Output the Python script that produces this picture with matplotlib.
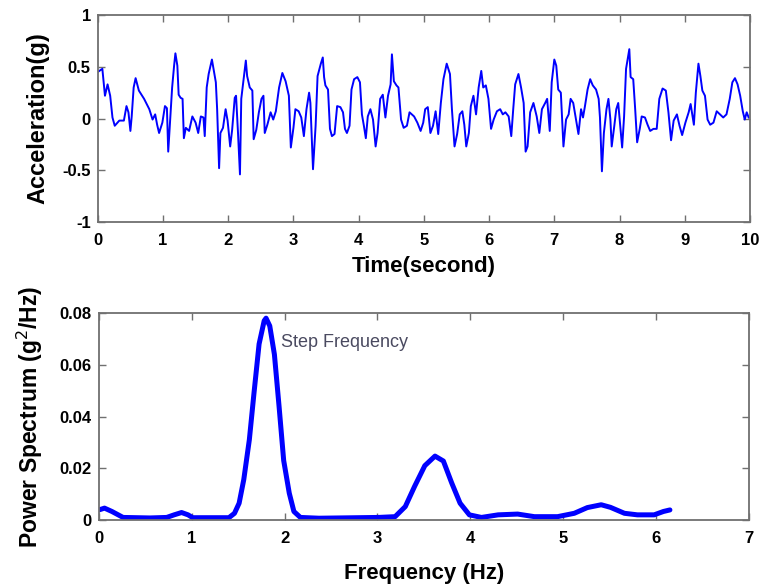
import numpy as np
import matplotlib.pyplot as plt

# acceleration trace (time in s, acceleration in g)
t = [0.00, 0.07, 0.11, 0.15, 0.19, 0.225, 0.26, 0.33, 0.40, 0.44, 0.47, 0.50, 0.52, 0.55, 0.58,
     0.63, 0.71, 0.79, 0.84, 0.88, 0.91, 0.94, 0.99, 1.03, 1.06, 1.08, 1.12, 1.14, 1.17, 1.19,
     1.22, 1.24, 1.27, 1.30, 1.32, 1.35, 1.40, 1.45, 1.50, 1.54, 1.58, 1.62, 1.64, 1.67, 1.70,
     1.75, 1.78, 1.81, 1.83, 1.86, 1.88, 1.92, 1.96, 1.99, 2.03, 2.06, 2.10, 2.12, 2.15, 2.18,
     2.20, 2.23, 2.27, 2.29, 2.33, 2.37, 2.39, 2.43, 2.47, 2.51, 2.54, 2.56, 2.60, 2.65, 2.69,
     2.73, 2.78, 2.83, 2.88, 2.93, 2.96, 3.00, 3.03, 3.08, 3.12, 3.16, 3.20, 3.24, 3.26, 3.30,
     3.34, 3.37, 3.42, 3.45, 3.47, 3.49, 3.53, 3.56, 3.59, 3.63, 3.67, 3.72, 3.76, 3.79, 3.82,
     3.86, 3.89, 3.93, 3.98, 4.02, 4.05, 4.08, 4.11, 4.14, 4.18, 4.22, 4.26, 4.29, 4.33, 4.37,
     4.41, 4.45, 4.49, 4.51, 4.54, 4.58, 4.61, 4.65, 4.69, 4.74, 4.78, 4.85, 4.90, 4.95, 4.99,
     5.02, 5.06, 5.10, 5.14, 5.18, 5.22, 5.26, 5.30, 5.35, 5.40, 5.43, 5.47, 5.51, 5.55, 5.59,
     5.62, 5.65, 5.69, 5.72, 5.76, 5.80, 5.84, 5.88, 5.91, 5.95, 5.99, 6.03, 6.07, 6.12, 6.17,
     6.21, 6.25, 6.30, 6.34, 6.37, 6.40, 6.45, 6.49, 6.53, 6.56, 6.59, 6.63, 6.68, 6.73, 6.77,
     6.81, 6.86, 6.89, 6.93, 6.96, 7.00, 7.03, 7.06, 7.10, 7.14, 7.18, 7.22, 7.25, 7.29, 7.34,
     7.37, 7.41, 7.44, 7.47, 7.51, 7.55, 7.59, 7.64, 7.68, 7.70, 7.73, 7.76, 7.80, 7.83, 7.86,
     7.88, 7.92, 7.95, 7.98, 8.01, 8.04, 8.07, 8.10, 8.15, 8.17, 8.21, 8.24, 8.27, 8.31, 8.34,
     8.39, 8.43, 8.47, 8.52, 8.57, 8.61, 8.66, 8.71, 8.75, 8.79, 8.83, 8.88, 8.92, 8.96, 9.01,
     9.06, 9.09, 9.14, 9.17, 9.21, 9.24, 9.27, 9.31, 9.35, 9.39, 9.44, 9.49, 9.54, 9.59, 9.64,
     9.69, 9.73, 9.77, 9.81, 9.85, 9.89, 9.92, 9.95, 9.98]
acc = [0.45, 0.48, 0.22, 0.33, 0.22, 0.01, -0.07, -0.02, -0.02, 0.12, 0.06, -0.12, 0.02, 0.30, 0.39,
       0.27, 0.19, 0.09, -0.01, 0.04, -0.06, -0.14, -0.04, 0.12, 0.10, -0.32, 0.09, 0.30, 0.51, 0.63,
       0.51, 0.23, 0.20, 0.19, -0.19, -0.09, -0.12, 0.02, -0.04, -0.14, 0.02, 0.01, -0.17, 0.30, 0.43,
       0.57, 0.46, 0.35, 0.09, -0.48, -0.14, -0.09, 0.09, -0.02, -0.27, -0.11, 0.20, 0.22, -0.14, -0.54,
       0.19, 0.35, 0.56, 0.41, 0.30, 0.27, -0.20, -0.11, 0.06, 0.19, 0.22, -0.14, -0.06, 0.06, -0.01,
       0.07, 0.30, 0.44, 0.36, 0.22, -0.28, -0.09, 0.09, 0.07, 0.01, -0.17, 0.09, 0.25, 0.15, -0.49,
       -0.07, 0.41, 0.53, 0.59, 0.40, 0.32, 0.28, -0.10, -0.17, -0.15, 0.12, 0.11, 0.06, -0.10, -0.14,
       -0.07, 0.28, 0.38, 0.40, 0.35, 0.04, -0.07, -0.19, 0.02, 0.09, -0.01, -0.27, -0.14, 0.19, 0.23,
       0.01, 0.22, 0.33, 0.62, 0.36, 0.32, 0.30, -0.01, -0.09, -0.07, 0.06, 0.02, -0.04, -0.12, -0.04,
       0.09, 0.11, -0.14, -0.07, 0.07, -0.15, 0.15, 0.38, 0.53, 0.43, 0.09, -0.27, -0.15, 0.04, 0.07,
       -0.06, -0.27, -0.14, 0.12, 0.22, 0.04, 0.30, 0.46, 0.30, 0.32, 0.19, -0.10, -0.01, 0.07, 0.09,
       0.04, 0.06, 0.02, -0.17, 0.09, 0.33, 0.43, 0.30, 0.15, -0.32, -0.27, 0.06, 0.15, 0.02, -0.14,
       0.09, 0.15, 0.19, -0.12, 0.35, 0.57, 0.51, 0.28, 0.25, -0.27, -0.01, 0.04, 0.19, 0.15, -0.04,
       -0.15, 0.09, 0.01, 0.12, 0.28, 0.38, 0.32, 0.28, 0.19, 0.01, -0.51, -0.14, 0.09, 0.19, -0.01,
       -0.27, -0.07, 0.09, 0.15, -0.07, -0.28, 0.02, 0.48, 0.67, 0.40, 0.38, 0.09, -0.23, -0.10, 0.02,
       0.01, -0.06, -0.12, -0.10, -0.10, 0.19, 0.29, 0.27, 0.06, -0.21, -0.02, 0.04, -0.07, -0.16, -0.04,
       0.06, 0.14, -0.06, 0.25, 0.53, 0.41, 0.27, 0.22, -0.01, -0.06, -0.04, 0.07, 0.04, 0.01, 0.04,
       0.19, 0.35, 0.39, 0.33, 0.22, 0.07, -0.01, 0.06, 0.01]

# power spectrum (Hz, g^2/Hz)
freq = [0.00, 0.06, 0.14, 0.26, 0.55, 0.73, 0.81, 0.89, 0.96, 1.01, 1.40, 1.46, 1.51, 1.56, 1.62,
        1.67, 1.725, 1.78, 1.80, 1.84, 1.89, 1.94, 1.99, 2.05, 2.10, 2.17, 2.37, 3.01, 3.19, 3.30,
        3.40, 3.51, 3.62, 3.71, 3.80, 3.89, 3.99, 4.12, 4.30, 4.51, 4.69, 4.94, 5.12, 5.26, 5.41,
        5.51, 5.66, 5.80, 5.98, 6.08, 6.15]
psd = [0.0039, 0.0046, 0.0033, 0.0010, 0.0008, 0.0010, 0.0020, 0.0029, 0.0020, 0.0009, 0.0009, 0.0026,
       0.0065, 0.0156, 0.031, 0.049, 0.068, 0.077, 0.078, 0.075, 0.064, 0.044, 0.023, 0.0104, 0.0033,
       0.0010, 0.0007, 0.0010, 0.0013, 0.0052, 0.013, 0.021, 0.0247, 0.0228, 0.0143, 0.0065, 0.0020,
       0.0010, 0.0020, 0.0023, 0.0013, 0.0013, 0.0026, 0.0048, 0.0059, 0.0049, 0.0026, 0.0020, 0.0020,
       0.0033, 0.0039]

plt.rcParams['font.family'] = ['Liberation Sans', 'DejaVu Sans']

fig = plt.figure(figsize=(7.61, 5.87), dpi=100)
ax1 = fig.add_axes([0.1285, 0.6218, 0.8570, 0.3526])
ax2 = fig.add_axes([0.1300, 0.1141, 0.8540, 0.3527])

spine_col = '#707070'
for ax in (ax1, ax2):
    for s in ax.spines.values():
        s.set_color(spine_col)
        s.set_linewidth(1.3)
    ax.tick_params(direction='in', top=True, right=True, length=5, width=1,
                   color=spine_col, labelsize=12)
    ax.tick_params(axis='x', pad=8)
    ax.tick_params(axis='y', pad=5)

ax1.plot(t, acc, color='#0000ff', lw=1.4)
ax1.set_xlim(0, 10)
ax1.set_ylim(-1, 1)
ax1.set_xticks(range(0, 11))
ax1.set_yticks([-1, -0.5, 0, 0.5, 1])
ax1.set_yticklabels(['-1', '-0.5', '0', '0.5', '1'], fontweight='bold')
ax1.set_xticklabels([str(i) for i in range(0, 11)], fontweight='bold')
ax1.set_xlabel('Time(second)', fontsize=16, fontweight='bold', labelpad=6)
ax1.set_ylabel('Acceleration(g)', fontsize=17, fontweight='bold', labelpad=9)

ax2.plot(freq, psd, color='#0000ff', lw=3.6, solid_capstyle='round')
ax2.set_xlim(0, 7)
ax2.set_ylim(0, 0.08)
ax2.set_xticks(range(0, 8))
ax2.set_yticks([0, 0.02, 0.04, 0.06, 0.08])
ax2.set_xticklabels([str(i) for i in range(0, 8)], fontweight='bold')
ax2.set_yticklabels(['0', '0.02', '0.04', '0.06', '0.08'], fontweight='bold')
ax2.set_xlabel('Frequency (Hz)', fontsize=16, fontweight='bold', labelpad=12)
ax2.set_ylabel('Power Spectrum (g$^2$/Hz)', fontsize=16.5, fontweight='bold', labelpad=11)
ax2.text(1.96, 0.0685, 'Step Frequency', fontsize=13, color='#4a4a60', va='center')

fig.savefig('out.png', dpi=100)
